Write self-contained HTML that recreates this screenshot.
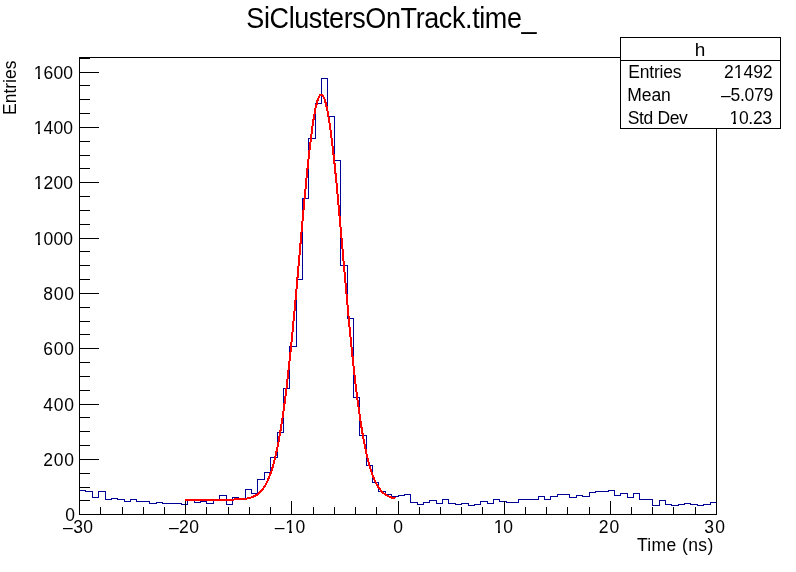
<!DOCTYPE html>
<html><head><meta charset="utf-8"><title>SiClustersOnTrack.time_</title>
<style>
html,body{margin:0;padding:0;background:#fff;width:796px;height:572px;overflow:hidden}
text{font-family:"Liberation Sans",Arial,Helvetica,sans-serif;fill:#000}
</style></head><body>
<svg width="796" height="572" viewBox="0 0 796 572" style="display:block">
<rect width="796" height="572" fill="#fff"/>
<text transform="translate(246.36 28.46) scale(1 1.080)" font-size="27" textLength="290.20" lengthAdjust="spacing">SiClustersOnTrack.time_</text>
<path d="M79.5 514.5V490.5H85.5V491.5H92.5V497.5H98.5V491.5H105.5V499.5H111.5V498.5H117.5V499.5H124.5V501.5H130.5V499.5H136.5V501.5H143.5V501.5H149.5V503.5H156.5V502.5H162.5V503.5H168.5V503.5H175.5V503.5H181.5V504.5H187.5V500.5H194.5V502.5H200.5V501.5H206.5V503.5H213.5V500.5H219.5V495.5H226.5V504.5H232.5V497.5H238.5V499.5H245.5V489.5H251.5V493.5H257.5V479.5H264.5V472.5H270.5V457.5H277.5V432.5H283.5V388.5H289.5V346.5H296.5V279.5H302.5V198.5H308.5V138.5H315.5V103.5H321.5V78.5H327.5V116.5H334.5V160.5H340.5V265.5H347.5V318.5H353.5V397.5H359.5V435.5H366.5V465.5H372.5V482.5H378.5V491.5H385.5V494.5H391.5V496.5H398.5V495.5H404.5V494.5H410.5V502.5H417.5V504.5H423.5V502.5H429.5V500.5H436.5V503.5H442.5V499.5H448.5V503.5H455.5V504.5H461.5V503.5H468.5V505.5H474.5V504.5H480.5V501.5H487.5V503.5H493.5V499.5H499.5V501.5H506.5V502.5H512.5V502.5H518.5V499.5H525.5V499.5H531.5V499.5H538.5V496.5H544.5V499.5H550.5V496.5H557.5V494.5H563.5V494.5H569.5V497.5H576.5V495.5H582.5V496.5H589.5V492.5H595.5V491.5H601.5V491.5H608.5V490.5H614.5V495.5H620.5V493.5H627.5V497.5H633.5V493.5H639.5V499.5H646.5V499.5H652.5V505.5H659.5V500.5H665.5V504.5H671.5V505.5H678.5V504.5H684.5V503.5H690.5V504.5H697.5V505.5H703.5V504.5H710.5V502.5H716.5V514.5" fill="none" stroke="#000099" stroke-width="1" shape-rendering="crispEdges"/>
<polyline points="185.00,499.62 187.10,499.62 189.21,499.62 191.31,499.62 193.42,499.62 195.53,499.62 197.63,499.62 199.74,499.62 201.84,499.62 203.94,499.62 206.05,499.62 208.16,499.62 210.26,499.62 212.37,499.62 214.47,499.62 216.57,499.62 218.68,499.62 220.78,499.61 222.89,499.61 225.00,499.60 227.10,499.59 229.20,499.58 231.31,499.55 233.41,499.52 235.52,499.46 237.62,499.39 239.73,499.29 241.84,499.14 243.94,498.93 246.05,498.65 248.15,498.27 250.25,497.75 252.36,497.06 254.47,496.15 256.57,494.96 258.68,493.41 260.78,491.44 262.88,488.93 264.99,485.80 267.10,481.90 269.20,477.13 271.31,471.34 273.41,464.40 275.51,456.16 277.62,446.50 279.73,435.30 281.83,422.47 283.94,407.96 286.04,391.74 288.14,373.85 290.25,354.37 292.36,333.45 294.46,311.31 296.56,288.22 298.67,264.54 300.77,240.66 302.88,217.04 304.99,194.16 307.09,172.55 309.19,152.69 311.30,135.10 313.40,120.21 315.51,108.43 317.62,100.08 319.72,95.39 321.82,94.50 323.93,97.42 326.03,104.08 328.14,114.28 330.25,127.76 332.35,144.14 334.46,162.99 336.56,183.85 338.66,206.20 340.77,229.53 342.88,253.35 344.98,277.17 347.09,300.59 349.19,323.21 351.29,344.74 353.40,364.91 355.50,383.56 357.61,400.57 359.72,415.88 361.82,429.50 363.93,441.45 366.03,451.82 368.13,460.71 370.24,468.24 372.35,474.55 374.45,479.79 376.56,484.07 378.66,487.55 380.76,490.34 382.87,492.55 384.98,494.28 387.08,495.63 389.19,496.67 391.29,497.45 393.39,498.05 395.50,498.49" fill="none" stroke="#ff0000" stroke-width="2" stroke-linejoin="round" shape-rendering="crispEdges"/>
<g shape-rendering="crispEdges" stroke="#000" stroke-width="1" fill="none">
<rect x="79.5" y="57.5" width="637" height="457"/>
<path d="M79.5 514.5h19M79.5 500.5h10M79.5 487.5h10M79.5 473.5h10M79.5 459.5h19M79.5 445.5h10M79.5 431.5h10M79.5 417.5h10M79.5 404.5h19M79.5 390.5h10M79.5 376.5h10M79.5 362.5h10M79.5 348.5h19M79.5 334.5h10M79.5 321.5h10M79.5 307.5h10M79.5 293.5h19M79.5 279.5h10M79.5 265.5h10M79.5 251.5h10M79.5 238.5h19M79.5 224.5h10M79.5 210.5h10M79.5 196.5h10M79.5 182.5h19M79.5 168.5h10M79.5 155.5h10M79.5 141.5h10M79.5 127.5h19M79.5 113.5h10M79.5 99.5h10M79.5 85.5h10M79.5 72.5h19M79.5 58.5h10M79.5 514.5v-14M100.5 514.5v-8M122.5 514.5v-8M143.5 514.5v-8M164.5 514.5v-8M185.5 514.5v-14M206.5 514.5v-8M228.5 514.5v-8M249.5 514.5v-8M270.5 514.5v-8M291.5 514.5v-14M313.5 514.5v-8M334.5 514.5v-8M355.5 514.5v-8M376.5 514.5v-8M398.5 514.5v-14M419.5 514.5v-8M440.5 514.5v-8M461.5 514.5v-8M482.5 514.5v-8M504.5 514.5v-14M525.5 514.5v-8M546.5 514.5v-8M567.5 514.5v-8M589.5 514.5v-8M610.5 514.5v-14M631.5 514.5v-8M652.5 514.5v-8M673.5 514.5v-8M695.5 514.5v-8M716.5 514.5v-14"/>
</g>
<text x="74.90" y="520.80" font-size="17.5" text-anchor="end">0</text>
<text x="74.10" y="465.80" font-size="17.5" text-anchor="end" textLength="30.89" lengthAdjust="spacing">200</text>
<text x="74.10" y="410.80" font-size="17.5" text-anchor="end" textLength="30.89" lengthAdjust="spacing">400</text>
<text x="74.10" y="354.80" font-size="17.5" text-anchor="end" textLength="30.89" lengthAdjust="spacing">600</text>
<text x="74.10" y="299.80" font-size="17.5" text-anchor="end" textLength="30.89" lengthAdjust="spacing">800</text>
<text x="73.10" y="244.80" font-size="17.5" text-anchor="end" textLength="39.47" lengthAdjust="spacing">1000</text>
<text x="73.10" y="188.80" font-size="17.5" text-anchor="end" textLength="39.47" lengthAdjust="spacing">1200</text>
<text x="73.10" y="133.80" font-size="17.5" text-anchor="end" textLength="39.47" lengthAdjust="spacing">1400</text>
<text x="73.10" y="78.80" font-size="17.5" text-anchor="end" textLength="39.47" lengthAdjust="spacing">1600</text>
<text x="93.00" y="532.9" font-size="17.5" text-anchor="end" textLength="29.99" lengthAdjust="spacing">–30</text>
<text x="199.00" y="532.9" font-size="17.5" text-anchor="end" textLength="30.09" lengthAdjust="spacing">–20</text>
<text x="305.20" y="532.9" font-size="17.5" text-anchor="end" textLength="30.39" lengthAdjust="spacing">–10</text>
<text x="403.10" y="532.9" font-size="17.5" text-anchor="end">0</text>
<text x="513.10" y="532.9" font-size="17.5" text-anchor="end" textLength="19.26" lengthAdjust="spacing">10</text>
<text x="619.20" y="532.9" font-size="17.5" text-anchor="end" textLength="20.56" lengthAdjust="spacing">20</text>
<text x="725.10" y="532.9" font-size="17.5" text-anchor="end" textLength="20.76" lengthAdjust="spacing">30</text>
<text x="636.90" y="550.90" font-size="17.5" textLength="76.40" lengthAdjust="spacing">Time (ns)</text>
<text transform="translate(15.7 114.95) rotate(-90)" font-size="17.5" textLength="54.33" lengthAdjust="spacing">Entries</text>
<g shape-rendering="crispEdges" stroke="#000" stroke-width="1">
<rect x="620.5" y="37.5" width="160" height="91" fill="#fff"/>
<path d="M620.5 60.5H780.5" fill="none"/>
</g>
<text x="694.87" y="55.80" font-size="19">h</text>
<text x="628.25" y="78.00" font-size="17.5" textLength="53.26" lengthAdjust="spacing">Entries</text>
<text x="724.10" y="78.05" font-size="17.5" textLength="48.44" lengthAdjust="spacing">21492</text>
<text x="627.25" y="100.70" font-size="17.5" textLength="43.59" lengthAdjust="spacing">Mean</text>
<text x="720.90" y="101.00" font-size="17.5" textLength="52.33" lengthAdjust="spacing">–5.079</text>
<text x="627.69" y="124.10" font-size="17.5" textLength="60.12" lengthAdjust="spacing">Std Dev</text>
<text x="729.55" y="124.10" font-size="17.5" textLength="42.52" lengthAdjust="spacing">10.23</text>
<g fill="#fff" shape-rendering="crispEdges"><rect x="35" y="77" width="3" height="2"/><rect x="35" y="132" width="3" height="2"/><rect x="35" y="187" width="3" height="2"/><rect x="35" y="243" width="3" height="2"/><rect x="40" y="77" width="3" height="2"/><rect x="40" y="132" width="3" height="2"/><rect x="40" y="187" width="3" height="2"/><rect x="40" y="243" width="3" height="2"/><rect x="286" y="531" width="3" height="2"/><rect x="292" y="531" width="3" height="2"/><rect x="495" y="531" width="3" height="2"/><rect x="500" y="531" width="3" height="2"/><rect x="735" y="76" width="3" height="2"/><rect x="740" y="76" width="3" height="2"/><rect x="730" y="122" width="3" height="2"/><rect x="736" y="122" width="3" height="2"/></g>
</svg>
</body></html>
